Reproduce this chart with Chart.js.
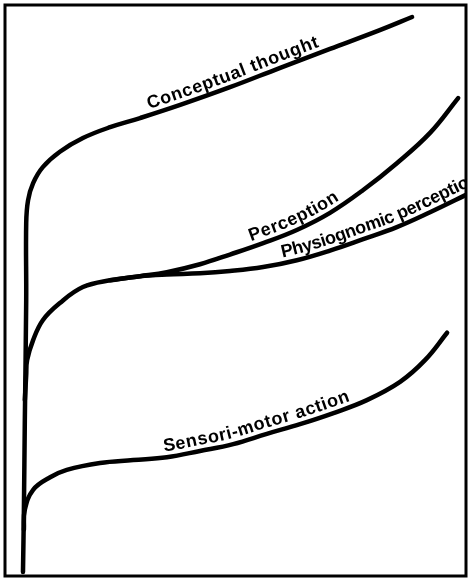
<!DOCTYPE html>
<html>
<head>
<meta charset="utf-8">
<script src="https://cdn.jsdelivr.net/npm/chart.js@4.4.1/dist/chart.umd.min.js"></script>
<style>
  html, body { margin: 0; padding: 0; background: #fff; }
  canvas { display: block; }
</style>
</head>
<body>
<canvas id="chart" width="469" height="581"></canvas>
<script>
const seriesNames = ['Conceptual thought', 'Perception', 'Physiognomic perception', 'Sensori-motor action'];

// values, both axes on a 0-100 scale
const conceptualX = [3.9, 4.1, 4.3, 4.6, 4.6, 5.0, 6.1, 8.2, 11.9, 16.9, 22.8, 29.3, 38.0, 48.8, 59.7, 70.5, 81.3, 88.3];
const conceptualY = [0.7, 11.6, 27.3, 48.3, 61.8, 65.8, 68.8, 71.6, 74.3, 76.7, 78.6, 80.2, 82.5, 85.6, 89.0, 92.3, 95.6, 97.9];

const perceptionX = [4.3, 4.6, 4.8, 6.1, 8.2, 11.9, 16.9, 22.8, 29.3, 35.1, 42.3, 48.8, 56.0, 63.3, 70.5, 77.7, 85.0, 92.2, 98.3];
const perceptionY = [30.8, 35.2, 37.8, 41.3, 44.8, 47.8, 50.6, 51.8, 52.5, 53.2, 54.6, 56.3, 58.3, 60.6, 63.6, 67.6, 72.3, 77.6, 83.7];

const physioX = [22.8, 29.3, 35.1, 42.3, 48.8, 56.0, 63.3, 70.5, 77.7, 85.0, 92.2, 100.9];
const physioY = [51.8, 52.5, 52.8, 53.0, 53.4, 54.1, 55.3, 57.0, 59.0, 61.1, 63.7, 67.1];

const sensoriX = [4.1, 4.3, 6.1, 9.8, 13.4, 20.6, 27.8, 35.1, 42.3, 49.5, 56.8, 64.0, 71.1, 78.5, 85.7, 91.1, 95.9];
const sensoriY = [8.1, 11.6, 15.1, 17.3, 18.6, 19.8, 20.3, 20.8, 21.9, 23.1, 24.9, 26.6, 28.5, 30.8, 34.0, 37.8, 42.6];

const toPoints = (xs, ys) => xs.map((x, i) => ({ x: x, y: ys[i] }));

const series = [
  toPoints(conceptualX, conceptualY),
  toPoints(perceptionX, perceptionY),
  toPoints(physioX, physioY),
  toPoints(sensoriX, sensoriY)
];

// sample the bezier path chart.js drew for a dataset
function curveSamples(meta) {
  const pts = meta.data;
  const out = [];
  for (let i = 0; i < pts.length - 1; i++) {
    const a = pts[i], b = pts[i + 1];
    const c1x = a.cp2x ?? a.x, c1y = a.cp2y ?? a.y;
    const c2x = b.cp1x ?? b.x, c2y = b.cp1y ?? b.y;
    for (let k = 0; k < 24; k++) {
      const t = k / 24, u = 1 - t;
      out.push({
        x: u*u*u*a.x + 3*u*u*t*c1x + 3*u*t*t*c2x + t*t*t*b.x,
        y: u*u*u*a.y + 3*u*u*t*c1y + 3*u*t*t*c2y + t*t*t*b.y
      });
    }
  }
  const last = pts[pts.length - 1];
  out.push({ x: last.x, y: last.y });
  let s = 0;
  out[0].s = 0;
  for (let i = 1; i < out.length; i++) {
    s += Math.hypot(out[i].x - out[i-1].x, out[i].y - out[i-1].y);
    out[i].s = s;
  }
  return out;
}

function pointAt(samples, s) {
  let i = 1;
  while (i < samples.length - 1 && samples[i].s < s) i++;
  const a = samples[i-1], b = samples[i];
  const f = b.s > a.s ? (s - a.s) / (b.s - a.s) : 0;
  return { x: a.x + (b.x - a.x) * f, y: a.y + (b.y - a.y) * f };
}

const curveLabels = {
  id: 'curveLabels',
  afterDatasetsDraw(chart, args, opts) {
    const ctx = chart.ctx;
    const area = chart.chartArea;
    ctx.save();
    ctx.beginPath();
    ctx.rect(area.left, area.top, area.right - area.left, area.bottom - area.top);
    ctx.clip();
    ctx.fillStyle = '#000';
    ctx.font = opts.font;
    ctx.textAlign = 'center';
    ctx.textBaseline = 'alphabetic';
    opts.items.forEach(item => {
      const samples = curveSamples(chart.getDatasetMeta(item.dataset));
      const startPx = chart.scales.x.getPixelForValue(item.startX);
      let s = samples.find(p => p.x >= startPx).s;
      const text = seriesNames[item.dataset];
      for (const ch of text) {
        const w = ctx.measureText(ch).width;
        const mid = s + w / 2;
        const p = pointAt(samples, mid);
        const p0 = pointAt(samples, mid - 5);
        const p1 = pointAt(samples, mid + 5);
        const ang = Math.atan2(p1.y - p0.y, p1.x - p0.x);
        const nx = Math.sin(ang), ny = -Math.cos(ang);
        ctx.save();
        ctx.translate(p.x + nx * item.offset, p.y + ny * item.offset);
        ctx.rotate(ang);
        ctx.fillText(ch, 0, 0);
        ctx.restore();
        s += w + item.spacing;
      }
    });
    ctx.restore();
  }
};

const frame = {
  id: 'frame',
  afterDraw(chart) {
    const ctx = chart.ctx;
    const a = chart.chartArea;
    ctx.save();
    ctx.strokeStyle = '#000';
    ctx.lineWidth = 3;
    ctx.strokeRect(a.left, a.top, a.right - a.left, a.bottom - a.top);
    ctx.restore();
  }
};

new Chart(document.getElementById('chart'), {
  type: 'line',
  data: {
    datasets: series.map((pts, i) => ({
      label: seriesNames[i],
      data: pts,
      borderColor: '#000',
      borderWidth: 4.5,
      borderCapStyle: 'round',
      borderJoinStyle: 'round',
      pointRadius: 0,
      fill: false,
      tension: 0.4
    }))
  },
  options: {
    responsive: false,
    animation: false,
    devicePixelRatio: 1,
    layout: { padding: { left: 5, top: 5, right: 3, bottom: 5 } },
    scales: {
      x: { type: 'linear', min: 0, max: 100, display: false },
      y: { type: 'linear', min: 0, max: 100, display: false }
    },
    plugins: {
      legend: { display: false },
      tooltip: { enabled: false },
      curveLabels: {
        font: 'bold 18px "Liberation Sans", Arial, sans-serif',
        items: [
          { dataset: 0, startX: 31.5, offset: 6, spacing: 0.7 },
          { dataset: 1, startX: 53.6, offset: 6, spacing: 0.7 },
          { dataset: 2, startX: 60.3, offset: 6, spacing: -0.3 },
          { dataset: 3, startX: 34.7, offset: 6, spacing: 0.7 }
        ]
      }
    }
  },
  plugins: [curveLabels, frame]
});
</script>
</body>
</html>
